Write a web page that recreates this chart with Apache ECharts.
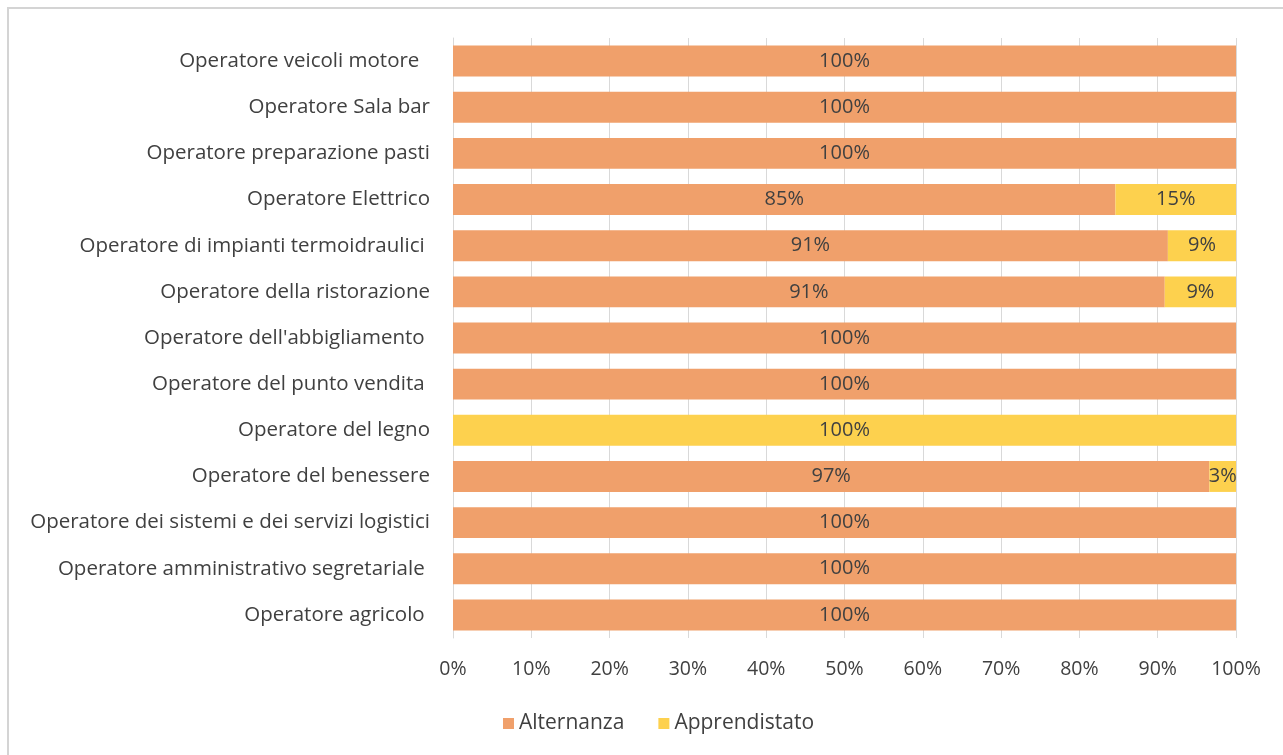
<!DOCTYPE html>
<html>
<head>
<meta charset="utf-8">
<script src="https://cdn.jsdelivr.net/npm/echarts@6/dist/echarts.min.js"></script>
<style>
  html, body { margin: 0; padding: 0; background: #fff; }
  #chart { width: 1283px; height: 755px; }
</style>
</head>
<body>
<div id="chart"></div>
<script>
// categorie dal basso verso l'alto (asse y di tipo category)
var categorie = [
  'Operatore agricolo ',
  'Operatore amministrativo segretariale ',
  'Operatore dei sistemi e dei servizi logistici',
  'Operatore del benessere',
  'Operatore del legno',
  'Operatore del punto vendita ',
  "Operatore dell'abbigliamento ",
  'Operatore della ristorazione',
  'Operatore di impianti termoidraulici ',
  'Operatore Elettrico',
  'Operatore preparazione pasti',
  'Operatore Sala bar',
  'Operatore veicoli motore  '
];
var alternanza    = [100, 100, 100, 96.6, 0, 100, 100, 90.9, 91.3, 84.6, 100, 100, 100];
var apprendistato = [0, 0, 0, 3.4, 100, 0, 0, 9.1, 8.7, 15.4, 0, 0, 0];
var tickPercent   = [0, 10, 20, 30, 40, 50, 60, 70, 80, 90, 100];

var font = '"Open Sans", "Noto Sans", sans-serif';
var textCol = '#404040';

var etichetta = {
  show: true,
  position: 'inside',
  color: textCol,
  fontSize: 20,
  fontFamily: font,
  formatter: function (p) {
    return p.value > 0 ? Math.round(p.value) + '%' : '';
  }
};

var myChart = echarts.init(document.getElementById('chart'));
var option = {
  backgroundColor: '#fff',
  animation: false,
  graphic: [{
    type: 'rect',
    shape: { x: 8, y: 8, width: 1290, height: 760 },
    style: { fill: 'none', stroke: '#d4d4d4', lineWidth: 2 },
    silent: true
  }],
  grid: { left: 453, right: 47, top: 38, bottom: 117, containLabel: false },
  legend: {
    data: ['Alternanza', 'Apprendistato'],
    left: 498,
    top: 708,
    itemWidth: 11,
    itemHeight: 11,
    itemGap: 34,
    icon: 'rect',
    textStyle: { color: textCol, fontSize: 21, fontFamily: font }
  },
  xAxis: {
    type: 'value',
    min: tickPercent[0],
    max: tickPercent[tickPercent.length - 1],
    interval: 10,
    axisLine: { show: false },
    axisTick: { show: false },
    splitLine: { show: true, lineStyle: { color: '#d9d9d9', width: 1 } },
    axisLabel: {
      margin: 21,
      color: textCol,
      fontSize: 19.5,
      fontFamily: font,
      formatter: '{value}%'
    }
  },
  yAxis: {
    type: 'category',
    data: categorie,
    axisLine: { show: true, lineStyle: { color: '#d9d9d9' } },
    axisTick: { show: false },
    axisLabel: {
      margin: 23,
      color: textCol,
      fontSize: 20.5,
      fontFamily: font
    }
  },
  series: [
    {
      name: 'Alternanza',
      type: 'bar',
      stack: 'tot',
      barCategoryGap: '33%',
      data: alternanza,
      itemStyle: { color: '#F0A06B' },
      label: etichetta
    },
    {
      name: 'Apprendistato',
      type: 'bar',
      stack: 'tot',
      data: apprendistato,
      itemStyle: { color: '#FDD14E' },
      label: etichetta
    }
  ]
};
myChart.setOption(option);
</script>
</body>
</html>
